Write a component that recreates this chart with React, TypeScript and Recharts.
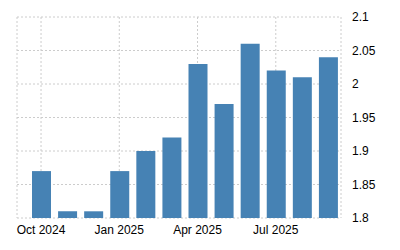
import { BarChart, Bar, XAxis, YAxis, CartesianGrid } from 'recharts'

const months = [
  'Oct 2024', 'Nov 2024', 'Dec 2024', 'Jan 2025', 'Feb 2025', 'Mar 2025',
  'Apr 2025', 'May 2025', 'Jun 2025', 'Jul 2025', 'Aug 2025', 'Sep 2025',
]
const values = [1.87, 1.81, 1.81, 1.87, 1.9, 1.92, 2.03, 1.97, 2.06, 2.02, 2.01, 2.04]
const yTicks = [1.8, 1.85, 1.9, 1.95, 2, 2.05, 2.1]

const data = months.map((month, i) => ({ month, value: values[i] }))

const tickStyle = { fontSize: 12, fill: '#000', fontFamily: 'Liberation Sans, Arial, sans-serif' }

export default function App() {
  return (
    <div style={{ position: 'absolute', left: 0, top: 0, background: '#fff' }}>
      <BarChart width={400} height={250} data={data} margin={{ top: 17, right: 0, bottom: 0, left: 17 }}>
        <CartesianGrid stroke="#cccccc" strokeDasharray="2 2" />
        <XAxis
          dataKey="month"
          interval={2}
          axisLine={false}
          tickLine={false}
          tickSize={0}
          tickMargin={7}
          height={32}
          padding={{ left: 11, right: 0 }}
          tick={tickStyle}
        />
        <YAxis
          orientation="right"
          domain={[1.8, 2.1]}
          ticks={yTicks}
          axisLine={false}
          tickLine={false}
          tickSize={0}
          tickMargin={11}
          width={59}
          tick={tickStyle}
          tickFormatter={(v: number) => String(v)}
        />
        <Bar dataKey="value" fill="#4682b4" barSize={19} isAnimationActive={false} />
      </BarChart>
    </div>
  )
}
